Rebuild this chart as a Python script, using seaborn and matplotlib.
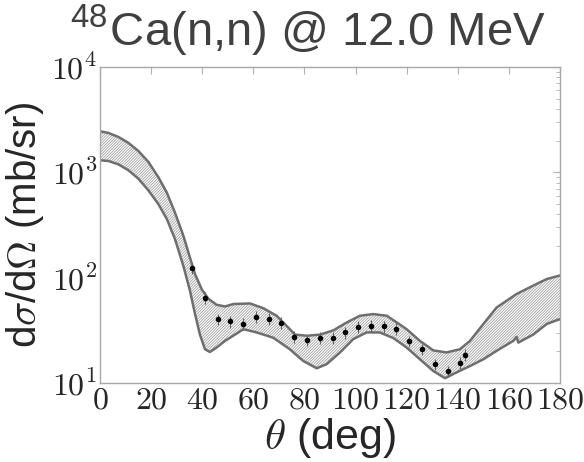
import numpy as np
import pandas as pd
import matplotlib
matplotlib.use("Agg")
import matplotlib.pyplot as plt
import matplotlib.ticker as mticker
import seaborn as sns

# Upper band boundary
theta_up = [0, 3.3, 7.2, 11.1, 15, 18.9, 22.8, 26.1, 29.3, 32.6, 35.2, 37.2, 39.8, 42.4,
            45.6, 48.9, 52.2, 58.7, 63.9, 69.1, 73, 76.3, 80.9, 86.1, 91.3, 96.5, 101.7,
            106.9, 112.2, 114.8, 120, 125.2, 130.4, 135.6, 140.8, 144.8, 150, 155.2, 163,
            169.5, 174.8, 180]
xs_up = [2455, 2366, 2168, 1905, 1596, 1259, 902, 646, 417, 251, 155, 108, 77.6, 63.1,
         55.3, 53.3, 56.2, 56.9, 51.3, 43.5, 34.9, 28.8, 28.1, 28.8, 31.6, 37.5, 43.5,
         45.1, 43.5, 39.5, 32.4, 25.1, 20.4, 19.5, 20.9, 25.1, 36.3, 52.1, 70, 84, 97,
         105]

# Lower band boundary
theta_lo = [0, 3.3, 7.2, 11.1, 15, 18.9, 22.8, 26.1, 29.3, 32.6, 35.2, 37.2, 39.1, 41.1,
            43, 45.6, 48.9, 50.9, 56.1, 61.3, 67.8, 74.3, 79.5, 84.8, 88.7, 93.9, 99.1,
            104.3, 109.5, 114.8, 120, 125.2, 130.4, 135, 139.5, 144.8, 150, 155.2, 161.7,
            163, 163.7, 169.5, 174.8, 180]
xs_lo = [1300, 1282, 1191, 1047, 871, 676, 501, 363, 234, 130, 75.2, 45.1, 28.8, 20.9,
         19.7, 21.7, 25.1, 26.9, 32.4, 30.2, 26.9, 20.9, 16.2, 13.8, 15.1, 19.5, 26.1,
         30.2, 30.2, 26.7, 21.7, 16.8, 13.0, 11.1, 12.6, 14.5, 16.8, 20.2, 25.1, 27.4,
         24.2, 28.8, 36.3, 40.5]

# Experimental data
theta_exp = [36, 41, 46, 51, 56, 61, 66, 71, 76, 81, 86, 91, 96, 101, 106, 111, 116,
             121, 126, 131, 136, 141, 143]
xs_exp = [123, 64.6, 40.5, 38.4, 36.7, 42.5, 40.7, 37.5, 27.5, 25.5, 26.9, 26.9, 30.2,
          34.1, 34.9, 34.4, 32.9, 25.1, 20.9, 15.1, 13.0, 15.6, 18.5]
xs_err = [14, 8, 5, 4.8, 4.6, 5.3, 5.1, 4.7, 3.4, 3.2, 3.4, 3.4, 3.8, 4.3, 4.4, 4.3,
          4.1, 3.1, 2.6, 1.9, 1.6, 2.0, 2.3]

xticks = [0, 20, 40, 60, 80, 100, 120, 140, 160, 180]

sns.set_style("white")
plt.rcParams["mathtext.fontset"] = "cm"
plt.rcParams["font.family"] = ["Liberation Sans", "DejaVu Sans"]
plt.rcParams["hatch.color"] = "#9a9a9a"
plt.rcParams["hatch.linewidth"] = 0.55

fig = plt.figure(figsize=(5.84, 4.62), dpi=100)
ax = fig.add_axes([100 / 584, 79 / 462, 460 / 584, 316 / 462])

# hatched band between the two boundaries (log-linear on a common grid)
grid = np.union1d(theta_up, theta_lo)
up_i = np.interp(grid, theta_up, np.log10(xs_up))
lo_i = np.interp(grid, theta_lo, np.log10(xs_lo))
ax.fill_between(grid, 10 ** lo_i, 10 ** up_i, facecolor="white", edgecolor="#9a9a9a",
                hatch="////////////", linewidth=0)

df_up = pd.DataFrame({"theta": theta_up, "xs": xs_up})
df_lo = pd.DataFrame({"theta": theta_lo, "xs": xs_lo})
sns.lineplot(data=df_up, x="theta", y="xs", ax=ax, color="#6e6e6e", linewidth=1.8)
sns.lineplot(data=df_lo, x="theta", y="xs", ax=ax, color="#6e6e6e", linewidth=1.8)

ax.errorbar(theta_exp, xs_exp, yerr=xs_err, fmt="none", ecolor="#666666",
            elinewidth=0.8, capsize=0)
df_exp = pd.DataFrame({"theta": theta_exp, "xs": xs_exp})
sns.scatterplot(data=df_exp, x="theta", y="xs", ax=ax, color="black", s=16,
                edgecolor="black", linewidth=0, zorder=5)

ax.set_yscale("log")
ax.set_xlim(0, 180)
ax.set_ylim(10, 1e4)
ax.set_xticks(xticks)
ax.xaxis.set_major_formatter(mticker.FuncFormatter(lambda v, p: r"$%d$" % v))
ax.yaxis.set_major_formatter(mticker.FuncFormatter(lambda v, p: r"$10^{%d}$" % round(np.log10(v))))
ax.yaxis.set_minor_locator(mticker.LogLocator(base=10, subs=np.arange(2, 10)))
ax.yaxis.set_minor_formatter(mticker.NullFormatter())

ax.tick_params(axis="both", which="both", direction="in", top=True, right=True,
               color="#b0b0b0", labelsize=23, pad=2)
ax.tick_params(axis="both", which="major", length=5, width=0.8)
ax.tick_params(axis="y", which="minor", length=3, width=0.6)
ax.tick_params(axis="x", which="minor", length=0)
for s in ax.spines.values():
    s.set_color("#a8a8a8")
    s.set_linewidth(1.0)

ax.set_xlabel(r"$\theta$ (deg)", fontsize=31, labelpad=0)
ax.set_ylabel(r"d$\sigma$/d$\Omega$ (mb/sr)", fontsize=29, labelpad=4)
fig.text(68 / 584, 1 - 45 / 462, r"$^{\mathregular{48}}$Ca(n,n) @ 12.0 MeV",
         fontsize=34, color="#404040", ha="left", va="baseline")

fig.savefig("out.png", dpi=100)
